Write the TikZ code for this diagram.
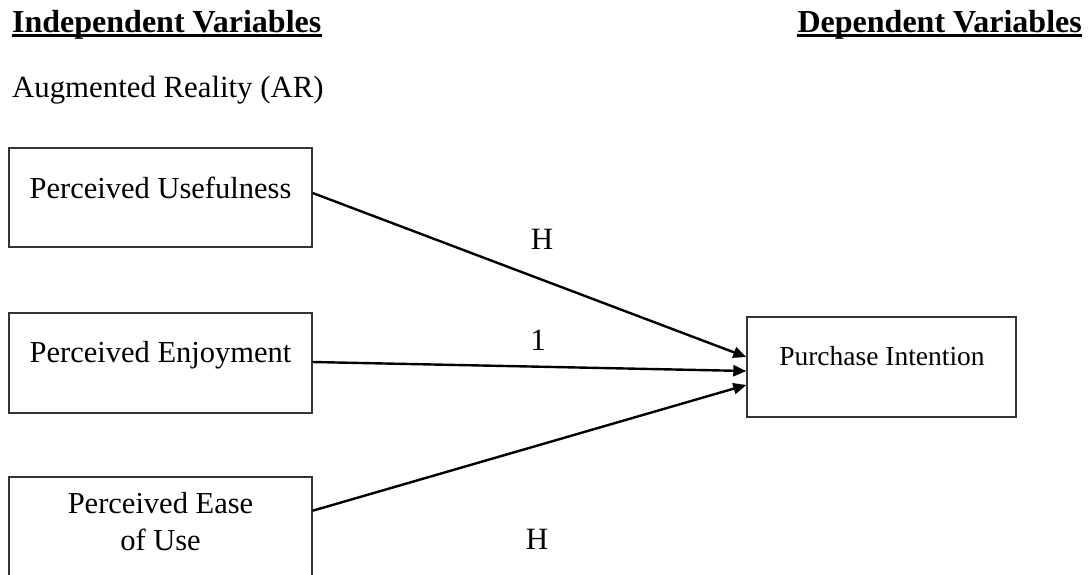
\documentclass[tikz,border=0pt]{standalone}
\usepackage{fontspec}
\setmainfont{Liberation Serif}
\usetikzlibrary{arrows.meta,calc}
\begin{document}
\begin{tikzpicture}[x=1pt,y=-1pt,
  boxstyle/.style={draw=black!80,line width=1.4pt,inner sep=0pt},
  boxtext/.style={font=\fontsize{30.5}{36}\selectfont,anchor=base,inner sep=0pt},
  headtext/.style={font=\fontsize{32}{38}\selectfont\bfseries,anchor=base west,inner sep=0pt},
  lbl/.style={font=\fontsize{31}{36}\selectfont,anchor=base,inner sep=0pt},
  arr/.style={line width=2.4pt,-{Triangle[length=13pt,width=11pt]}}]
\useasboundingbox (0,0) rectangle (1090,574);
\fill[white] (0,0) rectangle (1090,574);
% headings
\node[headtext] (hi) at (12,32) {Independent Variables};
\node[headtext,anchor=base east] (hd) at (1082,32) {Dependent Variables};
\draw[line width=3pt] ($(hi.base west)+(0,3.5)$) -- ($(hi.base east)+(0,3.5)$);
\draw[line width=3pt] ($(hd.base west)+(0,3.5)$) -- ($(hd.base east)+(0,3.5)$);
\node[font=\fontsize{30.8}{36}\selectfont,anchor=base west,inner sep=0pt] (ar) at (12,97) {Augmented Reality (AR)};
% boxes
\node[boxstyle,minimum width=303pt,minimum height=99pt] (pu) at (160.5,197.5) {};
\node[boxstyle,minimum width=303pt,minimum height=100pt] (pe) at (160.5,363) {};
\begin{scope}
\clip (0,0) rectangle (1090,574);
\node[boxstyle,minimum width=303pt,minimum height=130pt] (pa) at (160.5,542) {};
\end{scope}
\node[boxstyle,minimum width=269pt,minimum height=100pt] (pi) at (881.5,367) {};
% box texts
\node[boxtext] (tpu) at (160.5,198) {Perceived Usefulness};
\node[boxtext] (tpe) at (160.5,362) {Perceived Enjoyment};
\node[boxtext] (tpa1) at (160.5,513) {Perceived Ease};
\node[boxtext] (tpa2) at (160.5,550) {of Use};
\node[boxtext,font=\fontsize{27.5}{32}\selectfont] (tpi) at (882,365) {Purchase Intention};
% arrows
\draw[arr] ($(pu.east)+(0,-4.5)$) -- ($(pi.west)+(0,-10)$);
\draw[arr] ($(pe.east)+(0,-1)$) -- ($(pi.west)+(0,4)$);
\draw[arr] ($(pa.south east)+(0,-97)$) -- ($(pi.west)+(0,18)$);
% labels
\node[lbl] (h1) at (542,249) {H};
\node[lbl] (one) at (538,350) {1};
\node[lbl] (h2) at (537,549) {H};
\end{tikzpicture}
\end{document}
